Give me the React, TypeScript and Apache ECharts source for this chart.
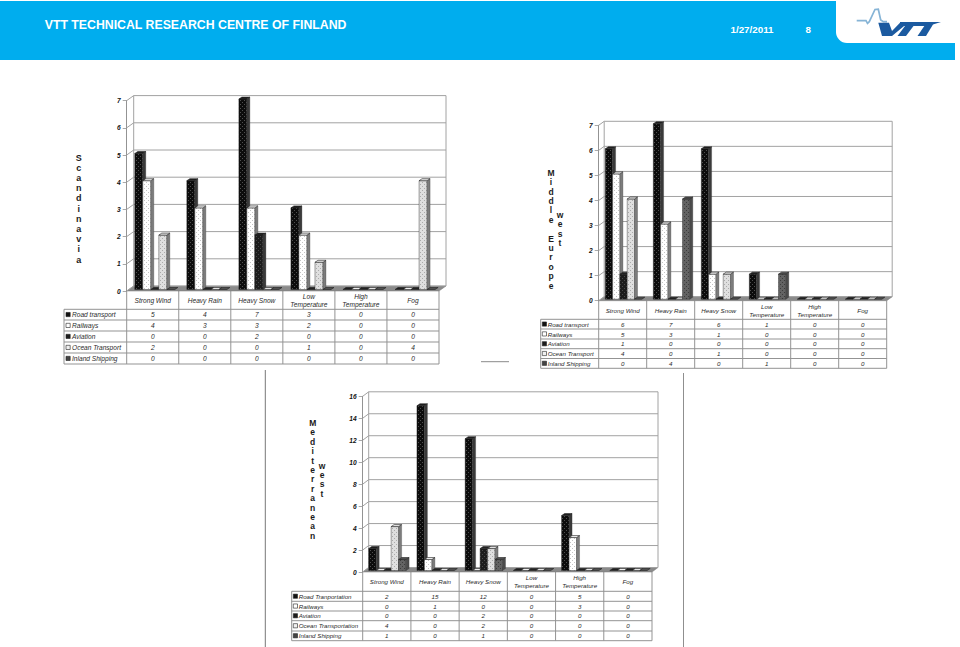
import React, { useEffect, useRef } from "react";
import * as echarts from "echarts";

const FONT = '"Liberation Sans", Arial, sans-serif';

const categories = ["Strong Wind", "Heavy Rain", "Heavy Snow", "Low\nTemperature", "High\nTemperature", "Fog"];

const scandinaviaNames = ["Road transport", "Railways", "Aviation", "Ocean Transport", "Inland Shipping"];
const scandinaviaRoad = [5, 4, 7, 3, 0, 0];
const scandinaviaRail = [4, 3, 3, 2, 0, 0];
const scandinaviaAir = [0, 0, 2, 0, 0, 0];
const scandinaviaSea = [2, 0, 0, 1, 0, 4];
const scandinaviaInland = [0, 0, 0, 0, 0, 0];

const middleNames = ["Road transport", "Railways", "Aviation", "Ocean Transport", "Inland Shipping"];
const middleRoad = [6, 7, 6, 1, 0, 0];
const middleRail = [5, 3, 1, 0, 0, 0];
const middleAir = [1, 0, 0, 0, 0, 0];
const middleSea = [4, 0, 1, 0, 0, 0];
const middleInland = [0, 4, 0, 1, 0, 0];

const medNames = ["Road Tranportation", "Railways", "Aviation", "Ocean Transportation", "Inland Shipping"];
const medRoad = [2, 15, 12, 0, 5, 0];
const medRail = [0, 1, 0, 0, 3, 0];
const medAir = [0, 0, 2, 0, 0, 0];
const medSea = [4, 0, 2, 0, 0, 0];
const medInland = [1, 0, 1, 0, 0, 0];

const ticksSeven = [0, 1, 2, 3, 4, 5, 6, 7];
const ticksSixteen = [0, 2, 4, 6, 8, 10, 12, 14, 16];

const panels = [
  {
    names: scandinaviaNames,
    values: [scandinaviaRoad, scandinaviaRail, scandinaviaAir, scandinaviaSea, scandinaviaInland],
    ticks: ticksSeven, interval: 1,
    left: 126.7, right: 439, top: 100.6, bottom: 291, wallX: 7, wallY: 5,
    barStart: 0.155, barStep: 0.154, depthX: 3, depthY: 2,
    legendLeft: 64, swatchX: 66, textX: 72, fontSize: 6.6,
    rows: [309.3, 320, 331, 342, 353, 364],
    titles: [{ text: "Scandinavia", x: 78.7, y: 157.7, step: 10.2, size: 9 }],
  },
  {
    names: middleNames,
    values: [middleRoad, middleRail, middleAir, middleSea, middleInland],
    ticks: ticksSeven, interval: 1,
    left: 598.7, right: 886.7, top: 125.3, bottom: 300.7, wallX: 5.5, wallY: 4,
    barStart: 0.138, barStep: 0.152, depthX: 3, depthY: 2,
    legendLeft: 540.7, swatchX: 542.3, textX: 547.7, fontSize: 6.2,
    rows: [319.3, 329, 339, 348.7, 358.5, 368.3],
    titles: [
      { text: "Middle Europe", x: 551, y: 172.7, step: 9.4, size: 8.5 },
      { text: "west", x: 560, y: 215, step: 9.4, size: 8.5 },
    ],
  },
  {
    names: medNames,
    values: [medRoad, medRail, medAir, medSea, medInland],
    ticks: ticksSixteen, interval: 2,
    left: 362.7, right: 652, top: 396.3, bottom: 572, wallX: 6, wallY: 4.5,
    barStart: 0.125, barStep: 0.155, depthX: 3, depthY: 2,
    legendLeft: 291.7, swatchX: 293.3, textX: 298.7, fontSize: 6.2,
    rows: [591.3, 601.3, 611, 620.7, 631, 640.7],
    titles: [
      { text: "Mediterranean", x: 312.7, y: 423, step: 9.4, size: 8.5 },
      { text: "west", x: 322, y: 466, step: 9.2, size: 8.5 },
    ],
  },
];

const LINE = "#939393";
const WALL = "#a2a2a2";
const HEADER_BLUE = "#00ADEE";

function tile(bg: string, dot: string) {
  const c = document.createElement("canvas");
  c.width = 4;
  c.height = 4;
  const g = c.getContext("2d") as CanvasRenderingContext2D;
  g.fillStyle = bg;
  g.fillRect(0, 0, 4, 4);
  g.fillStyle = dot;
  g.fillRect(0, 0, 1, 1);
  g.fillRect(2, 2, 1, 1);
  return { image: c, repeat: "repeat" };
}

function buildOption() {
  const looks = [
    { front: tile("#0c0c0c", "#505050"), side: "#3a3a3a", top: "#1e1e1e", swatch: "#111111" },
    { front: tile("#ffffff", "#c4c4c4"), side: "#7c7c7c", top: "#efefef", swatch: "#ffffff" },
    { front: tile("#1c1c1c", "#4a4a4a"), side: "#3a3a3a", top: "#222222", swatch: "#1c1c1c" },
    { front: tile("#dfdfdf", "#ababab"), side: "#7c7c7c", top: "#e4e4e4", swatch: "#f0f0f0" },
    { front: tile("#636363", "#3c3c3c"), side: "#4c4c4c", top: "#505050", swatch: "#444444" },
  ];

  const grid: any[] = [];
  const xAxis: any[] = [];
  const yAxis: any[] = [];
  const series: any[] = [];
  const graphic: any[] = [
    { type: "rect", shape: { x: 0, y: 1, width: 955, height: 59 }, style: { fill: HEADER_BLUE } },
    { type: "rect", shape: { x: 836, y: 0, width: 119, height: 43, r: [0, 0, 0, 11] }, style: { fill: "#ffffff" } },
    { type: "text", x: 44.7, y: 25, style: { text: "VTT TECHNICAL RESEARCH CENTRE OF FINLAND", fill: "#ffffff", font: `bold 12.3px ${FONT}`, textVerticalAlign: "middle" } },
    { type: "text", x: 752, y: 29, style: { text: "1/27/2011", fill: "#ffffff", font: `bold 9.8px ${FONT}`, textAlign: "center", textVerticalAlign: "middle" } },
    { type: "text", x: 808.3, y: 29, style: { text: "8", fill: "#ffffff", font: `bold 9.8px ${FONT}`, textAlign: "center", textVerticalAlign: "middle" } },
    { type: "polyline", shape: { points: [[856.7, 20.7], [866, 20.7], [867.5, 23.3], [869.3, 21.7], [875, 9.5], [878.3, 9.2], [880.7, 20], [883.3, 21.7], [887, 21.7]] }, style: { fill: "none", stroke: "#86b4d6", lineWidth: 1.7 } },
    { type: "polygon", shape: { points: [[878.3, 22.7], [889, 22.7], [892, 31], [900, 22.7], [908, 22.7], [892, 36], [882, 36]] }, style: { fill: "#1b5aa0" } },
    { type: "polygon", shape: { points: [[900, 22], [941, 22], [928, 26], [900, 26]] }, style: { fill: "#1b5aa0" } },
    { type: "polygon", shape: { points: [[905, 26], [913.5, 26], [906, 36], [897.5, 36]] }, style: { fill: "#1b5aa0" } },
    { type: "polygon", shape: { points: [[925, 25], [933.3, 24], [926, 36], [917.5, 36]] }, style: { fill: "#1b5aa0" } },
    { type: "line", shape: { x1: 481, y1: 361.7, x2: 509, y2: 361.7 }, style: { stroke: "#8a8a8a", lineWidth: 1 } },
    { type: "line", shape: { x1: 265.3, y1: 370, x2: 265.3, y2: 647 }, style: { stroke: "#777777", lineWidth: 1 } },
    { type: "line", shape: { x1: 683.5, y1: 373, x2: 683.5, y2: 647 }, style: { stroke: "#8f8f8f", lineWidth: 1 } },
  ];

  panels.forEach((p, pi) => {
    const height = p.bottom - p.top;
    const width = p.right - p.left;
    const band = width / categories.length;
    const labelColor = "#2a2a2a";

    grid.push({ left: p.left, top: p.top, width, height, containLabel: false });
    xAxis.push({
      type: "category", gridIndex: pi, data: categories,
      axisLine: { show: false }, axisTick: { show: false },
      axisLabel: { interval: 0, margin: 9.5, verticalAlign: "middle", color: labelColor, fontFamily: FONT, fontStyle: "italic", fontSize: p.fontSize, lineHeight: 8.4 },
    });
    yAxis.push({
      type: "value", gridIndex: pi, min: 0, max: p.ticks[p.ticks.length - 1], interval: p.interval,
      splitLine: { show: false },
      axisLine: { show: true, lineStyle: { color: LINE, width: 1 } },
      axisTick: { show: true, length: 4, lineStyle: { color: LINE, width: 0.8 } },
      axisLabel: { margin: 6, color: "#111111", fontFamily: FONT, fontStyle: "italic", fontWeight: "bold", fontSize: 6.6 },
    });

    // walls and floor
    series.push({
      type: "custom", xAxisIndex: pi, yAxisIndex: pi, z: 1, silent: true,
      data: p.ticks.map((t) => [0, t]),
      renderItem: (params: any, api: any) => {
        const cs = params.coordSys;
        const y = api.coord([0, api.value(1)])[1];
        const children: any[] = [
          { type: "polyline", shape: { points: [[cs.x, y], [cs.x + p.wallX, y - p.wallY], [cs.x + cs.width + p.wallX, y - p.wallY]] }, style: { fill: "none", stroke: WALL, lineWidth: 1 } },
        ];
        if (api.value(1) === 0) {
          const b = cs.y + cs.height;
          children.unshift(
            { type: "polygon", shape: { points: [[cs.x, b], [cs.x + cs.width, b], [cs.x + cs.width + p.wallX, b - p.wallY], [cs.x + p.wallX, b - p.wallY]] }, style: { fill: "#8a8a8a", stroke: "#777777", lineWidth: 0.5 } },
            { type: "line", shape: { x1: cs.x + p.wallX, y1: cs.y - p.wallY, x2: cs.x + p.wallX, y2: b - p.wallY }, style: { stroke: WALL, lineWidth: 1 } },
            { type: "line", shape: { x1: cs.x + cs.width + p.wallX, y1: cs.y - p.wallY, x2: cs.x + cs.width + p.wallX, y2: b - p.wallY }, style: { stroke: WALL, lineWidth: 1 } }
          );
        }
        return { type: "group", children };
      },
    });

    // bars
    p.values.forEach((vals, si) => {
      const look = looks[si];
      series.push({
        type: "custom", name: p.names[si], xAxisIndex: pi, yAxisIndex: pi, z: 2 + si, silent: true,
        data: vals.map((v, i) => [i, v]),
        encode: { x: 0, y: 1 },
        renderItem: (_params: any, api: any) => {
          const cat = api.value(0);
          const topPt = api.coord([cat, api.value(1)]);
          const basePt = api.coord([cat, 0]);
          const bw = api.size([1, 0])[0];
          const w = bw * p.barStep;
          const x0 = basePt[0] - bw / 2 + bw * (p.barStart + si * p.barStep);
          const yb = basePt[1] - 1.5;
          const yt = topPt[1] - 1.5;
          const dx = p.depthX;
          const dy = p.depthY;
          const children: any[] = [];
          if (yb - yt > 0.01) {
            children.push(
              { type: "rect", shape: { x: x0, y: yt, width: w, height: yb - yt }, style: { fill: look.front, stroke: "#222222", lineWidth: 0.4 } },
              { type: "polygon", shape: { points: [[x0 + w, yt], [x0 + w + dx, yt - dy], [x0 + w + dx, yb - dy], [x0 + w, yb]] }, style: { fill: look.side, stroke: "#333333", lineWidth: 0.3 } }
            );
          }
          children.push({
            type: "polygon",
            shape: { points: [[x0, yt], [x0 + w, yt], [x0 + w + dx, yt - dy], [x0 + dx, yt - dy]] },
            style: { fill: look.top, stroke: "#222222", lineWidth: 0.6 },
          });
          return { type: "group", children };
        },
      });
    });

    // table
    const rows = p.rows;
    const tableBottom = rows[rows.length - 1];
    categories.forEach((_, c) => {
      const x = p.left + c * band;
      graphic.push({ type: "line", shape: { x1: x, y1: p.bottom, x2: x, y2: tableBottom }, style: { stroke: LINE, lineWidth: 1 } });
    });
    graphic.push({ type: "line", shape: { x1: p.right, y1: p.bottom, x2: p.right, y2: tableBottom }, style: { stroke: LINE, lineWidth: 1 } });
    graphic.push({ type: "line", shape: { x1: p.legendLeft, y1: rows[0], x2: p.legendLeft, y2: tableBottom }, style: { stroke: LINE, lineWidth: 1 } });
    rows.forEach((y) => {
      graphic.push({ type: "line", shape: { x1: p.legendLeft, y1: y, x2: p.right, y2: y }, style: { stroke: LINE, lineWidth: 1 } });
    });
    p.names.forEach((name, si) => {
      const mid = (rows[si] + rows[si + 1]) / 2;
      graphic.push({ type: "rect", shape: { x: p.swatchX, y: mid - 2.2, width: 4.2, height: 4.2 }, style: { fill: looks[si].swatch, stroke: "#222222", lineWidth: 0.6 } });
      graphic.push({ type: "text", x: p.textX, y: mid, style: { text: name, fill: labelColor, font: `italic ${p.fontSize}px ${FONT}`, textVerticalAlign: "middle" } });
      p.values[si].forEach((v, c) => {
        graphic.push({ type: "text", x: p.left + (c + 0.5) * band, y: mid, style: { text: String(v), fill: labelColor, font: `italic ${p.fontSize}px ${FONT}`, textAlign: "center", textVerticalAlign: "middle" } });
      });
    });

    // stacked axis titles
    p.titles.forEach((t) => {
      graphic.push({
        type: "text", x: t.x, y: t.y - t.step / 2,
        style: {
          text: t.text.split("").join("\n"),
          fill: "#1a1a1a", font: `bold ${t.size}px ${FONT}`, lineHeight: t.step,
          textAlign: "center", textVerticalAlign: "top",
        },
      });
    });
  });

  return { animation: false, backgroundColor: "#ffffff", grid, xAxis, yAxis, series, graphic };
}

export default function App() {
  const ref = useRef<HTMLDivElement>(null);
  useEffect(() => {
    const chart = echarts.init(ref.current as HTMLDivElement, undefined, { renderer: "svg" });
    chart.setOption(buildOption() as any);
    return () => chart.dispose();
  }, []);
  return <div ref={ref} style={{ position: "fixed", left: 0, top: 0, width: 960, height: 647 }} />;
}
